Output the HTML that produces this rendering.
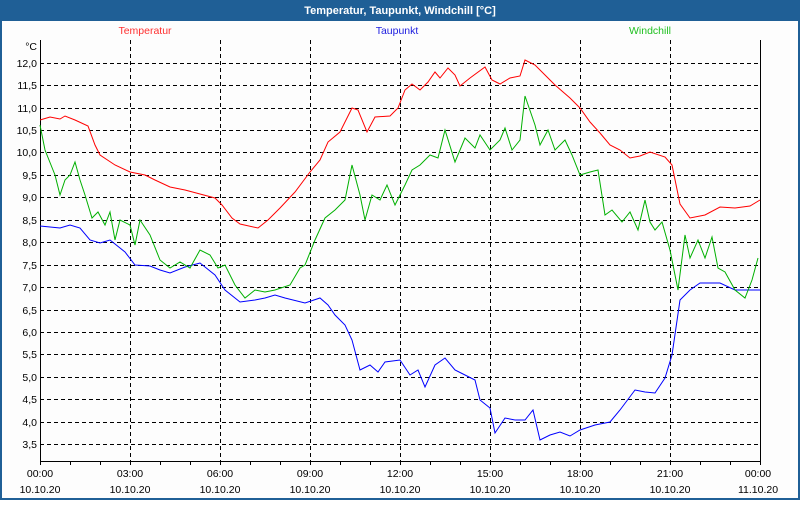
<!DOCTYPE html>
<html><head><meta charset="utf-8"><style>
body{margin:0;width:800px;height:500px;overflow:hidden;background:#fff}
</style></head><body>
<svg width="800" height="500" xmlns="http://www.w3.org/2000/svg" font-family="Liberation Sans, sans-serif" font-size="10.5">
<rect x="0" y="0" width="800" height="500" fill="#1f5f96"/>
<rect x="2" y="21" width="796" height="477" fill="#fdfdfd"/>
<text x="400" y="14" fill="#fff" font-weight="bold" font-size="11" text-anchor="middle">Temperatur, Taupunkt, Windchill [°C]</text>
<text x="145" y="34" fill="#ff3030" text-anchor="middle">Temperatur</text>
<text x="397" y="34" fill="#2020e0" text-anchor="middle">Taupunkt</text>
<text x="650" y="34" fill="#20c020" text-anchor="middle">Windchill</text>
<g stroke="#000" stroke-width="1" stroke-dasharray="4,3" fill="none">
<path d="M40 63.5H760M40 85.5H760M40 108.5H760M40 130.5H760M40 152.5H760M40 175.5H760M40 197.5H760M40 220.5H760M40 242.5H760M40 265.5H760M40 287.5H760M40 310.5H760M40 332.5H760M40 354.5H760M40 377.5H760M40 399.5H760M40 422.5H760M40 444.5H760"/>
<path d="M130.5 40V461M220.5 40V461M310.5 40V461M400.5 40V461M490.5 40V461M580.5 40V461M670.5 40V461"/>
</g>
<path d="M40.5 40V461.5H760.5V40" stroke="#000" fill="none"/>
<g stroke="#000"><path d="M70.5 461v4M100.5 461v4M160.5 461v4M190.5 461v4M250.5 461v4M280.5 461v4M340.5 461v4M370.5 461v4M430.5 461v4M460.5 461v4M520.5 461v4M550.5 461v4M610.5 461v4M640.5 461v4M700.5 461v4M730.5 461v4M40.5 461v4M130.5 461v4M220.5 461v4M310.5 461v4M400.5 461v4M490.5 461v4M580.5 461v4M670.5 461v4M760.5 461v4"/></g>
<g text-anchor="end" fill="#000">
<text x="37" y="50">°C</text>
<text x="37" y="67">12,0</text><text x="37" y="89">11,5</text><text x="37" y="112">11,0</text><text x="37" y="134">10,5</text><text x="37" y="156">10,0</text><text x="37" y="179">9,5</text><text x="37" y="201">9,0</text><text x="37" y="224">8,5</text><text x="37" y="246">8,0</text><text x="37" y="269">7,5</text><text x="37" y="291">7,0</text><text x="37" y="314">6,5</text><text x="37" y="336">6,0</text><text x="37" y="358">5,5</text><text x="37" y="381">5,0</text><text x="37" y="403">4,5</text><text x="37" y="426">4,0</text><text x="37" y="448">3,5</text>
</g>
<g text-anchor="middle" fill="#000">
<text x="40" y="477">00:00</text><text x="40" y="493">10.10.20</text>
<text x="130" y="477">03:00</text><text x="130" y="493">10.10.20</text>
<text x="220" y="477">06:00</text><text x="220" y="493">10.10.20</text>
<text x="310" y="477">09:00</text><text x="310" y="493">10.10.20</text>
<text x="400" y="477">12:00</text><text x="400" y="493">10.10.20</text>
<text x="490" y="477">15:00</text><text x="490" y="493">10.10.20</text>
<text x="580" y="477">18:00</text><text x="580" y="493">10.10.20</text>
<text x="670" y="477">21:00</text><text x="670" y="493">10.10.20</text>
<text x="758" y="477">00:00</text><text x="758" y="493">11.10.20</text>
</g>
<polyline fill="none" stroke="#ff0000" points="40,120 50,117 60,119 65,116 75,120 88,126 95,145 100,155 115,165 130,172 145,175 155,180 170,187 185,190 200,194 215,198 222,205 232,218 240,224 258,228 268,220 280,208 295,192 310,172 320,160 328,142 340,132 352,108 358,110 367,132 375,117 390,116 398,108 405,90 412,84 420,90 428,82 435,72 440,78 448,68 455,75 460,86 470,78 485,67 492,80 500,84 510,78 520,76 525,60 535,65 545,75 555,85 570,98 580,108 590,122 600,133 610,145 620,150 630,158 640,156 650,152 665,157 672,165 680,204 690,218 705,215 720,207 735,208 750,206 760,200"/>
<polyline fill="none" stroke="#0000ff" points="40,226 60,228 70,225 80,228 90,240 100,243 110,240 125,252 135,265 150,266 160,270 170,273 185,267 200,263 215,275 225,290 240,302 255,300 265,298 275,295 285,298 305,303 320,298 328,305 335,315 345,325 352,340 360,370 370,365 378,372 385,362 400,360 410,375 418,370 425,387 435,365 445,358 455,370 465,375 475,380 480,400 490,408 495,433 505,418 515,420 525,420 533,410 540,440 550,435 560,432 570,436 580,430 595,425 610,422 620,410 635,390 645,392 655,393 665,378 672,355 680,300 690,290 700,283 720,283 735,290 760,290"/>
<polyline fill="none" stroke="#00b000" points="40,125 45,150 55,175 60,195 65,180 70,175 75,162 80,180 85,195 92,218 98,212 105,225 110,212 115,240 120,220 130,225 135,245 140,220 150,235 160,260 170,268 180,262 190,268 200,250 210,255 218,268 225,265 235,285 245,298 255,290 265,292 275,290 290,285 300,268 305,265 315,240 325,218 335,210 345,200 352,165 360,195 365,220 372,195 380,200 387,185 395,205 405,185 412,170 420,165 430,155 438,158 445,130 455,162 465,138 475,148 480,135 490,150 500,140 505,128 512,150 520,140 525,96 535,125 540,145 548,130 555,150 565,140 572,155 580,175 590,172 598,170 605,215 612,210 622,222 630,212 638,230 645,200 650,222 655,230 662,222 670,250 678,290 685,235 690,258 698,240 705,258 712,237 718,268 725,272 735,290 745,298 752,280 758,258"/>
</svg>
</body></html>
